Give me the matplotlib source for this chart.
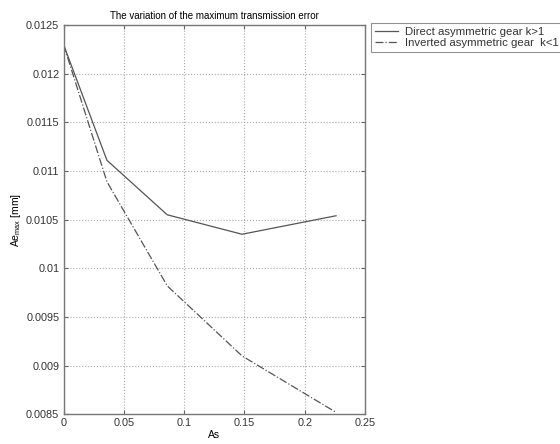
import numpy as np
import matplotlib.pyplot as plt

plt.rcParams['font.family'] = ['Liberation Sans', 'DejaVu Sans']
plt.rcParams['mathtext.default'] = 'regular'

# asymmetry factor As
As = [0.0, 0.036, 0.086, 0.148, 0.226]
# maximum transmission error [mm]
direct = [0.0123, 0.01111, 0.01055, 0.01035, 0.01054]
inverted = [0.0123, 0.01089, 0.00982, 0.00910, 0.00852]

xticks = [0, 0.05, 0.1, 0.15, 0.2, 0.25]
yticks = [0.0085, 0.009, 0.0095, 0.01, 0.0105, 0.011, 0.0115, 0.012, 0.0125]
ylabels = ['0.0085', '0.009', '0.0095', '0.01', '0.0105', '0.011', '0.0115', '0.012', '0.0125']

fig = plt.figure(figsize=(5.6, 4.44), dpi=100)
ax = fig.add_axes([0.1134, 0.0669, 0.5384, 0.8768])

lc = '#555555'
ax.plot(As, direct, '-', color=lc, lw=0.9, label='Direct asymmetric gear k>1')
ax.plot(As, inverted, '-.', color=lc, lw=0.9, label='Inverted asymmetric gear  k<1')

ax.set_xlim(0, 0.25)
ax.set_ylim(0.0085, 0.0125)
ax.set_xticks(xticks)
ax.set_xticklabels(['0', '0.05', '0.1', '0.15', '0.2', '0.25'])
ax.set_yticks(yticks)
ax.set_yticklabels(ylabels)
ax.grid(True, linestyle=':', color='#aaaaaa', lw=0.8)
ax.tick_params(direction='in', length=3, labelsize=7.8, color='#666666',
               top=True, right=True, labelcolor='#333333', pad=3)
for s in ax.spines.values():
    s.set_color('#777777')
    s.set_linewidth(1.0)

ax.set_title('The variation of the maximum transmission error', fontsize=7, pad=4)
ax.set_xlabel('As', fontsize=7.5, labelpad=1)
ax.set_ylabel(r'Ae$_{max}$ [mm]', fontsize=7.5, labelpad=2)

leg = ax.legend(loc='upper left', bbox_to_anchor=(1.019, 1.005), fontsize=8.2,
                frameon=True, fancybox=False, edgecolor='#777777',
                handlelength=2.0, borderaxespad=0, borderpad=0.35,
                labelspacing=0.05, handletextpad=0.7)
leg.get_frame().set_linewidth(0.8)
for t in leg.get_texts():
    t.set_color('#333333')

fig.savefig('out.png', dpi=100)
